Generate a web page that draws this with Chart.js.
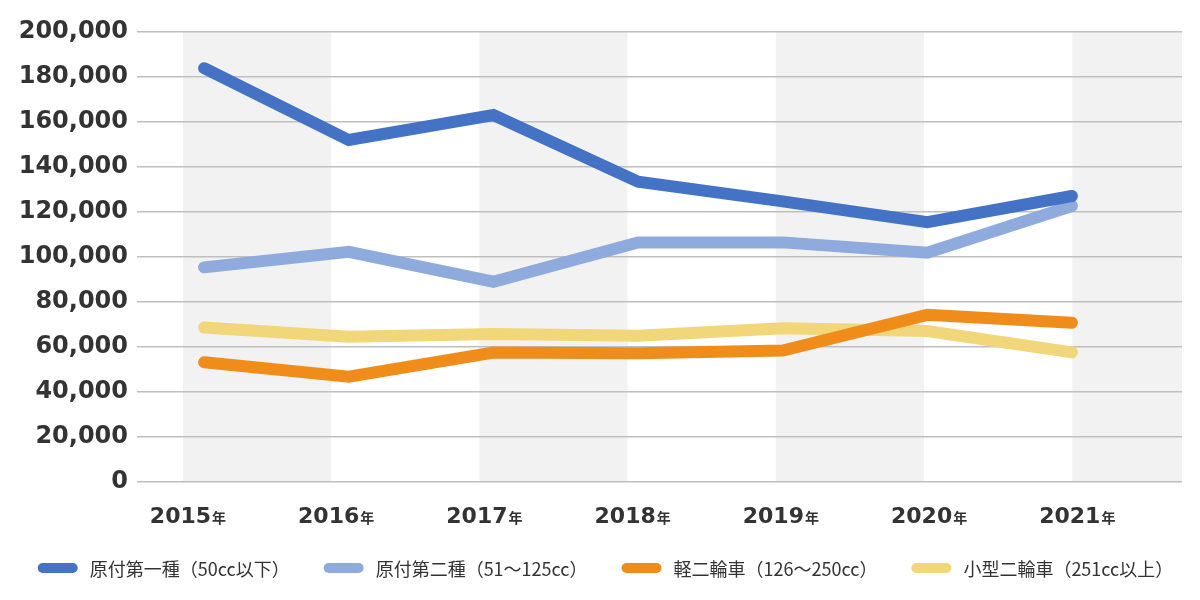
<!DOCTYPE html>
<html>
<head>
<meta charset="utf-8">
<script src="https://cdn.jsdelivr.net/npm/chart.js@4"></script>
<style>
  html, body { margin: 0; padding: 0; background: #fff; }
  #wrap { width: 1200px; height: 600px; }
</style>
</head>
<body>
<div id="wrap"><canvas id="bikeChart"></canvas></div>
<script>
// 年
const years = [2015, 2016, 2017, 2018, 2019, 2020, 2021];
const yearLabels = ['2015', '2016', '2017', '2018', '2019', '2020', '2021'];
const yearSuffix = '年';

// 台数
const gentsuki1 = [183900, 152000, 163100, 133500, 124700, 115500, 127100];
const gentsuki2 = [95400, 102300, 89000, 106500, 106500, 101900, 122700];
const keiNirin = [53200, 46800, 57500, 57200, 58400, 74300, 70800];
const kogataNirin = [68700, 64600, 65800, 65000, 68300, 67100, 57600];

const seriesNames = [
    '原付第一種（50cc以下）',
    '原付第二種（51～125cc）',
    '軽二輪車（126～250cc）',
    '小型二輪車（251cc以上）'
];
const seriesColors = ['#4472c4', '#8faadc', '#f08c1a', '#f1d67a'];

function toPoints(vals) {
    return years.map((y, i) => ({ x: y, y: vals[i] }));
}

// 背景の縞、年ラベル、凡例
const decoPlugin = {
    id: 'deco',
    beforeDraw(chart) {
        const { ctx, chartArea: a } = chart;
        ctx.save();
        ctx.fillStyle = '#fff';
        ctx.fillRect(0, 0, chart.width, chart.height);
        const bw = a.width / 7.05;
        const start = a.left + bw * 0.31;
        ctx.fillStyle = '#f2f2f2';
        for (let i = 0; i < 7; i += 2) {
            const x0 = start + i * bw;
            const x1 = Math.min(x0 + bw, a.right);
            ctx.fillRect(x0, a.top, x1 - x0, a.bottom - a.top);
        }
        ctx.restore();
    },
    afterDraw(chart) {
        const { ctx, chartArea: a } = chart;
        const bw = a.width / 7.05;
        const start = a.left + bw * 0.31;
        ctx.save();
        ctx.fillStyle = '#333';
        ctx.textBaseline = 'alphabetic';
        ctx.textAlign = 'left';
        const fBig = 'bold 22px "DejaVu Sans"';
        const fSmall = 'bold 14px "Noto Sans CJK JP"';
        yearLabels.forEach((lab, i) => {
            ctx.font = fBig;
            const w1 = ctx.measureText(lab).width;
            ctx.font = fSmall;
            const w2 = ctx.measureText(yearSuffix).width;
            const cx = start + i * bw + 5;
            const x0 = cx - (w1 + w2 + 1) / 2;
            ctx.font = fBig;
            ctx.fillText(lab, x0, a.bottom + 41);
            ctx.font = fSmall;
            ctx.fillText(yearSuffix, x0 + w1 + 1, a.bottom + 41);
        });

        // 凡例
        ctx.font = '18px "Noto Sans CJK JP"';
        ctx.textBaseline = 'middle';
        const sw = 40, gapText = 12, gapItem = 34;
        const widths = seriesNames.map(n => ctx.measureText(n).width);
        const total = widths.reduce((s, w) => s + sw + gapText + w, 0) + gapItem * (seriesNames.length - 1);
        let x = chart.width / 2 + 5.5 - total / 2;
        const yc = a.bottom + 86;
        chart.data.datasets.forEach((ds, i) => {
            ctx.fillStyle = ds.borderColor;
            ctx.beginPath();
            ctx.roundRect(x, yc - 5, sw, 10, 5);
            ctx.fill();
            ctx.fillStyle = '#333';
            ctx.fillText(ds.label, x + sw + gapText, yc + 1);
            x += sw + gapText + widths[i] + gapItem;
        });
        ctx.restore();
    }
};

const allSeries = [gentsuki1, gentsuki2, keiNirin, kogataNirin];

const ctx = document.getElementById('bikeChart').getContext('2d');
const bikeChart = new Chart(ctx, {
    type: 'line',
    data: {
        datasets: allSeries.map((vals, i) => ({
            label: seriesNames[i],
            data: toPoints(vals),
            borderColor: seriesColors[i],
            backgroundColor: seriesColors[i],
            borderWidth: 12,
            borderCapStyle: 'round',
            borderJoinStyle: 'miter',
            pointRadius: 0,
            pointHoverRadius: 0,
            tension: 0,
            fill: false
        }))
    },
    options: {
        responsive: true,
        maintainAspectRatio: false,
        animation: false,
        layout: {
            padding: { top: 32, right: 18, bottom: 0, left: 0 }
        },
        plugins: {
            tooltip: { enabled: false },
            legend: { display: false }
        },
        scales: {
            x: {
                type: 'linear',
                min: 2014.536,
                max: 2021.761,
                grid: { display: false },
                border: { display: false },
                ticks: { display: false },
                afterFit(scale) { scale.height = 118; }
            },
            y: {
                min: 0,
                max: 200000,
                grid: { color: '#bfbfbf', lineWidth: 1.5, drawTicks: false },
                border: { display: false },
                ticks: {
                    stepSize: 20000,
                    padding: 9,
                    color: '#333',
                    font: { family: '"DejaVu Sans"', size: 24, weight: 'bold' },
                    callback: v => v.toLocaleString('en-US')
                },
                afterFit(scale) { scale.width = 137; }
            }
        }
    },
    plugins: [decoPlugin]
});
</script>
</body>
</html>
